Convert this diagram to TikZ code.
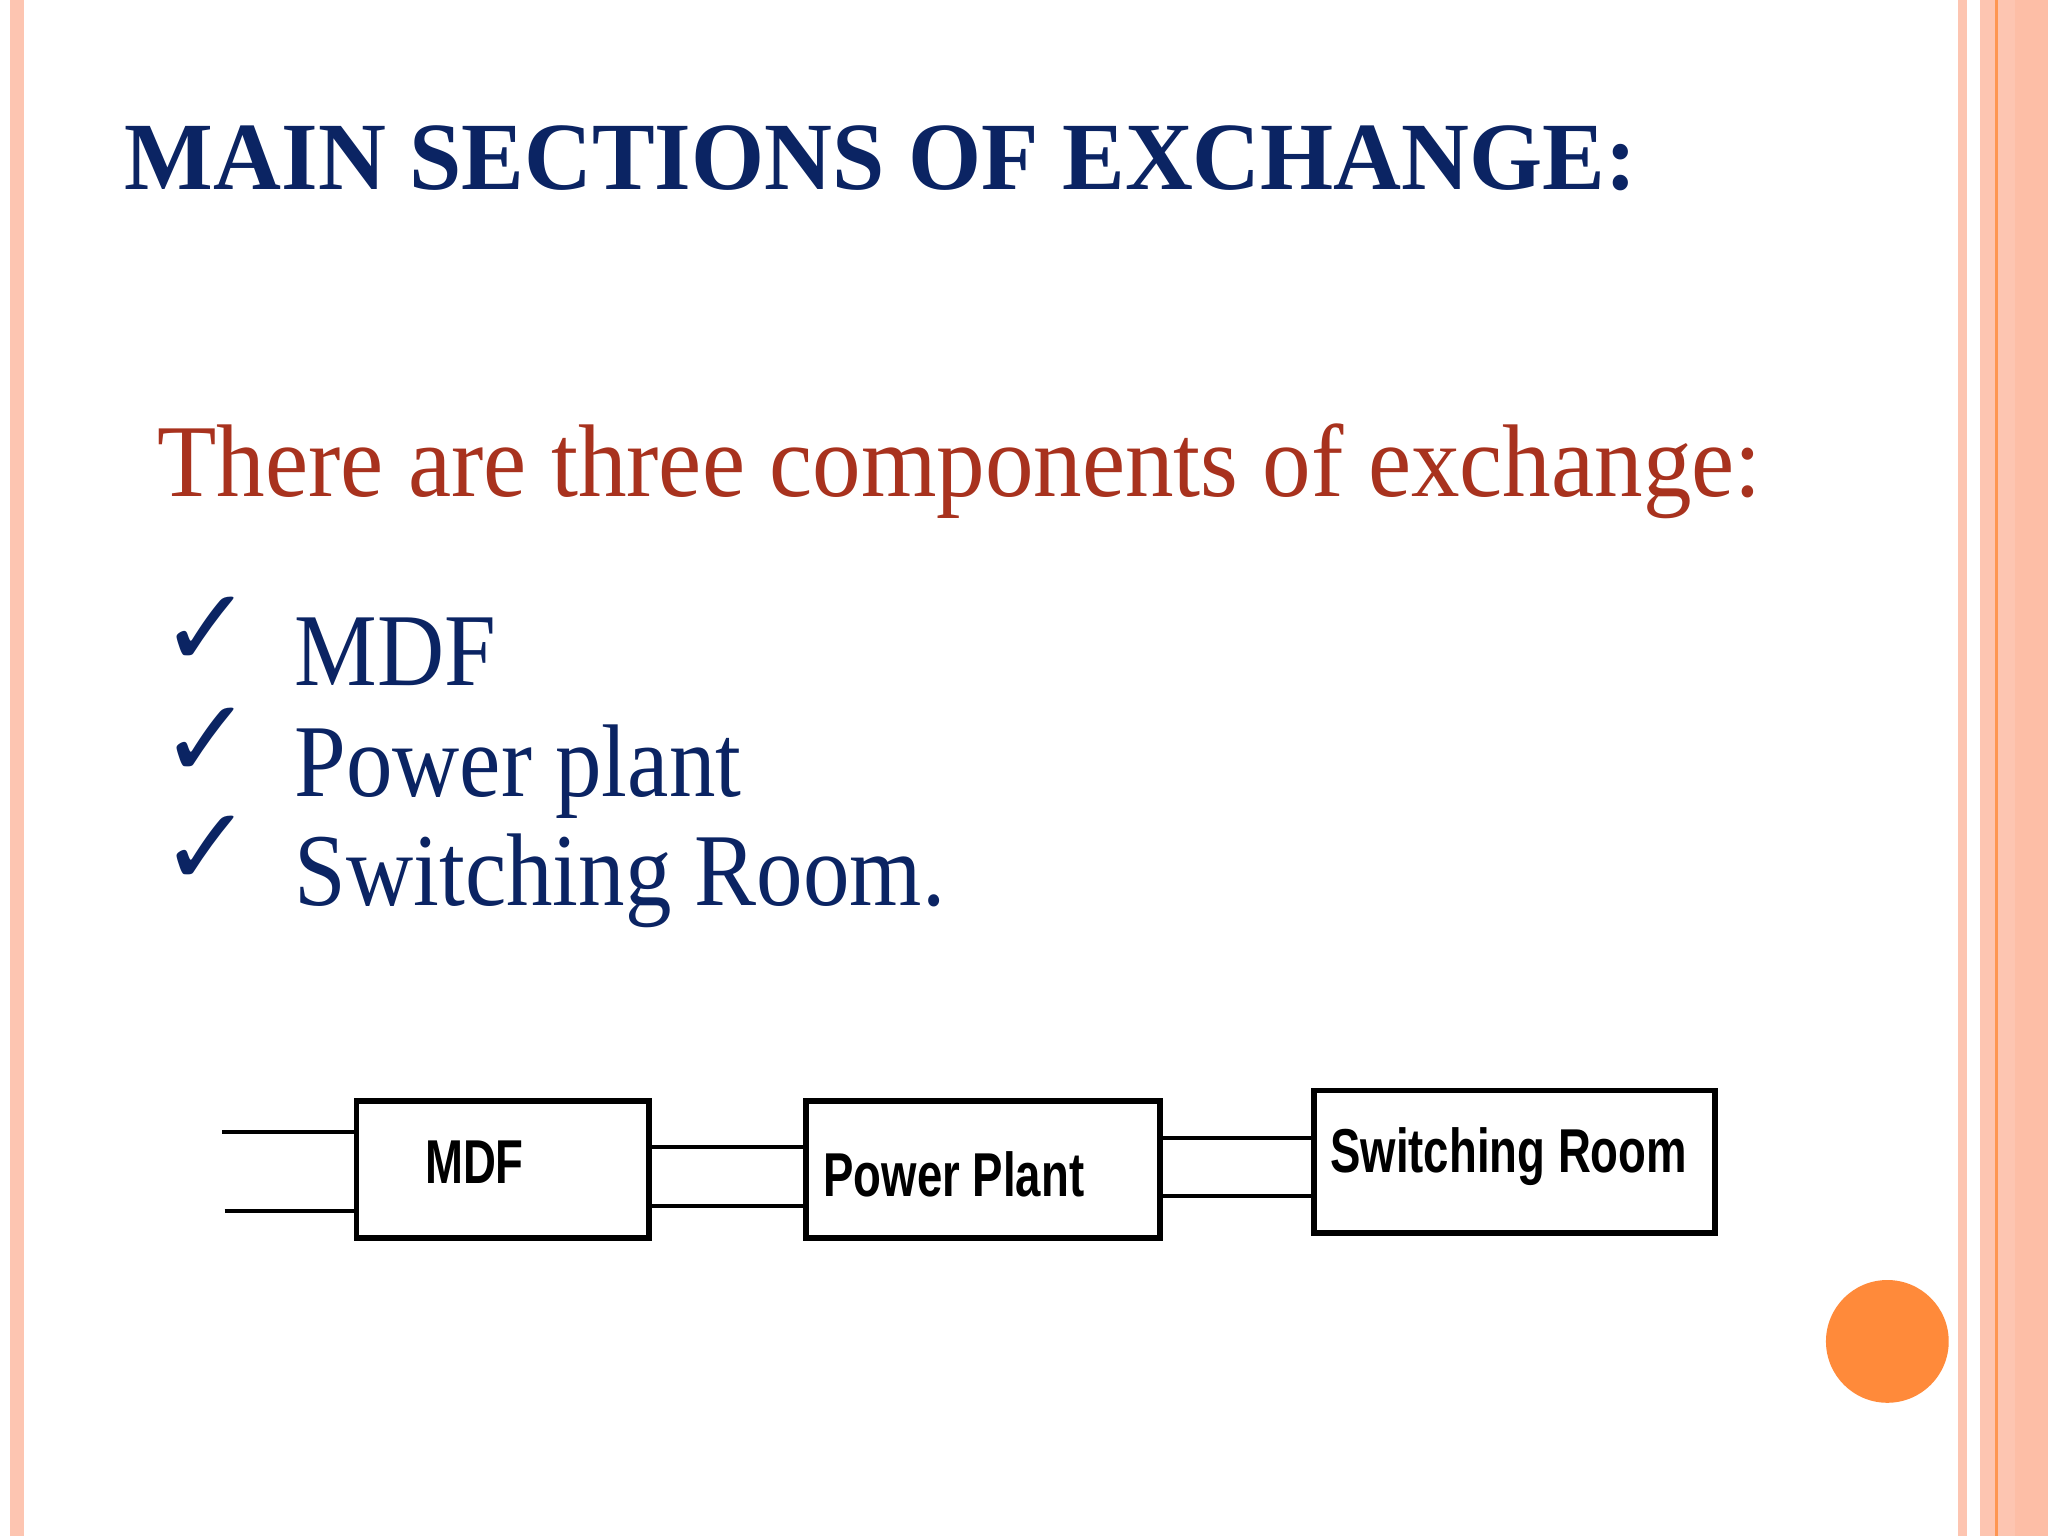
\documentclass[tikz,border=0pt]{standalone}
\usepackage{fontspec}
\setmainfont{Liberation Serif}
\newfontfamily\arialf{Liberation Sans}
\newfontfamily\dejavu{DejaVu Sans}
\definecolor{navy}{HTML}{0B2463}
\definecolor{rust}{HTML}{A8321E}
\definecolor{salmon}{HTML}{FDC5B1}
\definecolor{salmonB}{HTML}{FDBEA6}
\definecolor{orng}{HTML}{FF8A3A}
\begin{document}
\begin{tikzpicture}[x=0.1mm,y=-0.1mm,
  boxn/.style={draw,line width=1.2pt,minimum height=10.5mm,inner sep=0pt},
  wire/.style={line width=0.9pt},
  blabel/.style={font=\arialf\bfseries\fontsize{13.5}{13}\selectfont,text=black,xscale=0.735,inner sep=0pt}]
\useasboundingbox (0,0) rectangle (1568,1176);
\fill[white] (0,0) rectangle (1568,1176);
% borders
\fill[salmon] (8,0) rectangle (18,1176);
\fill[salmon] (1499,0) rectangle (1506,1176);
\fill[salmon] (1516,0) rectangle (1543,1176);
\fill[salmonB] (1543,0) rectangle (1568,1176);
\draw[orng!80!salmon,line width=0.6pt] (1528.5,0) -- (1528.5,1176);
% texts
\node[anchor=base west,inner sep=0,text=navy,font=\bfseries\fontsize{21}{21}\selectfont,xscale=0.975] (title) at (95,145) {MAIN SECTIONS OF EXCHANGE:};
\node[anchor=base west,inner sep=0,text=rust,font=\fontsize{22.5}{22}\selectfont,xscale=0.94] (intro) at (120,380) {There are three components of exchange:};
\foreach \y/\t [count=\i] in {525/MDF,610/Power plant,693/Switching Room.}{
  \node[anchor=base west,inner sep=0,text=navy,font=\fontsize{22.5}{22}\selectfont,xscale=0.9] (it\i) at (225,\y) {\t};
  \node[anchor=base west,inner sep=0,text=navy,font=\dejavu\bfseries\fontsize{24}{24}\selectfont] (ck\i) at (122,\y-15) {✓};
}
% diagram
\node[boxn,minimum width=22.4mm] (mdf) at (385,895.5) {};
\node[boxn,minimum width=27.1mm] (pp) at (752.5,895.5) {};
\node[boxn,minimum width=30.7mm,minimum height=10.9mm] (sr) at (1159.5,889.5) {};
\node[blabel,anchor=base west] (mdft) at (325,906) {MDF};
\node[blabel,anchor=base west] (ppt) at (630,916) {Power Plant};
\node[blabel,anchor=base west] (srt) at (1018,898) {Switching Room};
\coordinate (l1) at (170,867); \coordinate (l2) at (172,927);
\draw[wire] (l1) -- (l1 -| mdf.west);
\draw[wire] (l2) -- (l2 -| mdf.west);
\draw[wire] (mdf.east |- 0,878) -- (pp.west |- 0,878);
\draw[wire] (mdf.east |- 0,923) -- (pp.west |- 0,923);
\draw[wire] (pp.east |- 0,871) -- (sr.west |- 0,871);
\draw[wire] (pp.east |- 0,916) -- (sr.west |- 0,916);
\fill[orng] (1445,1027) circle (47);
\end{tikzpicture}
\end{document}
